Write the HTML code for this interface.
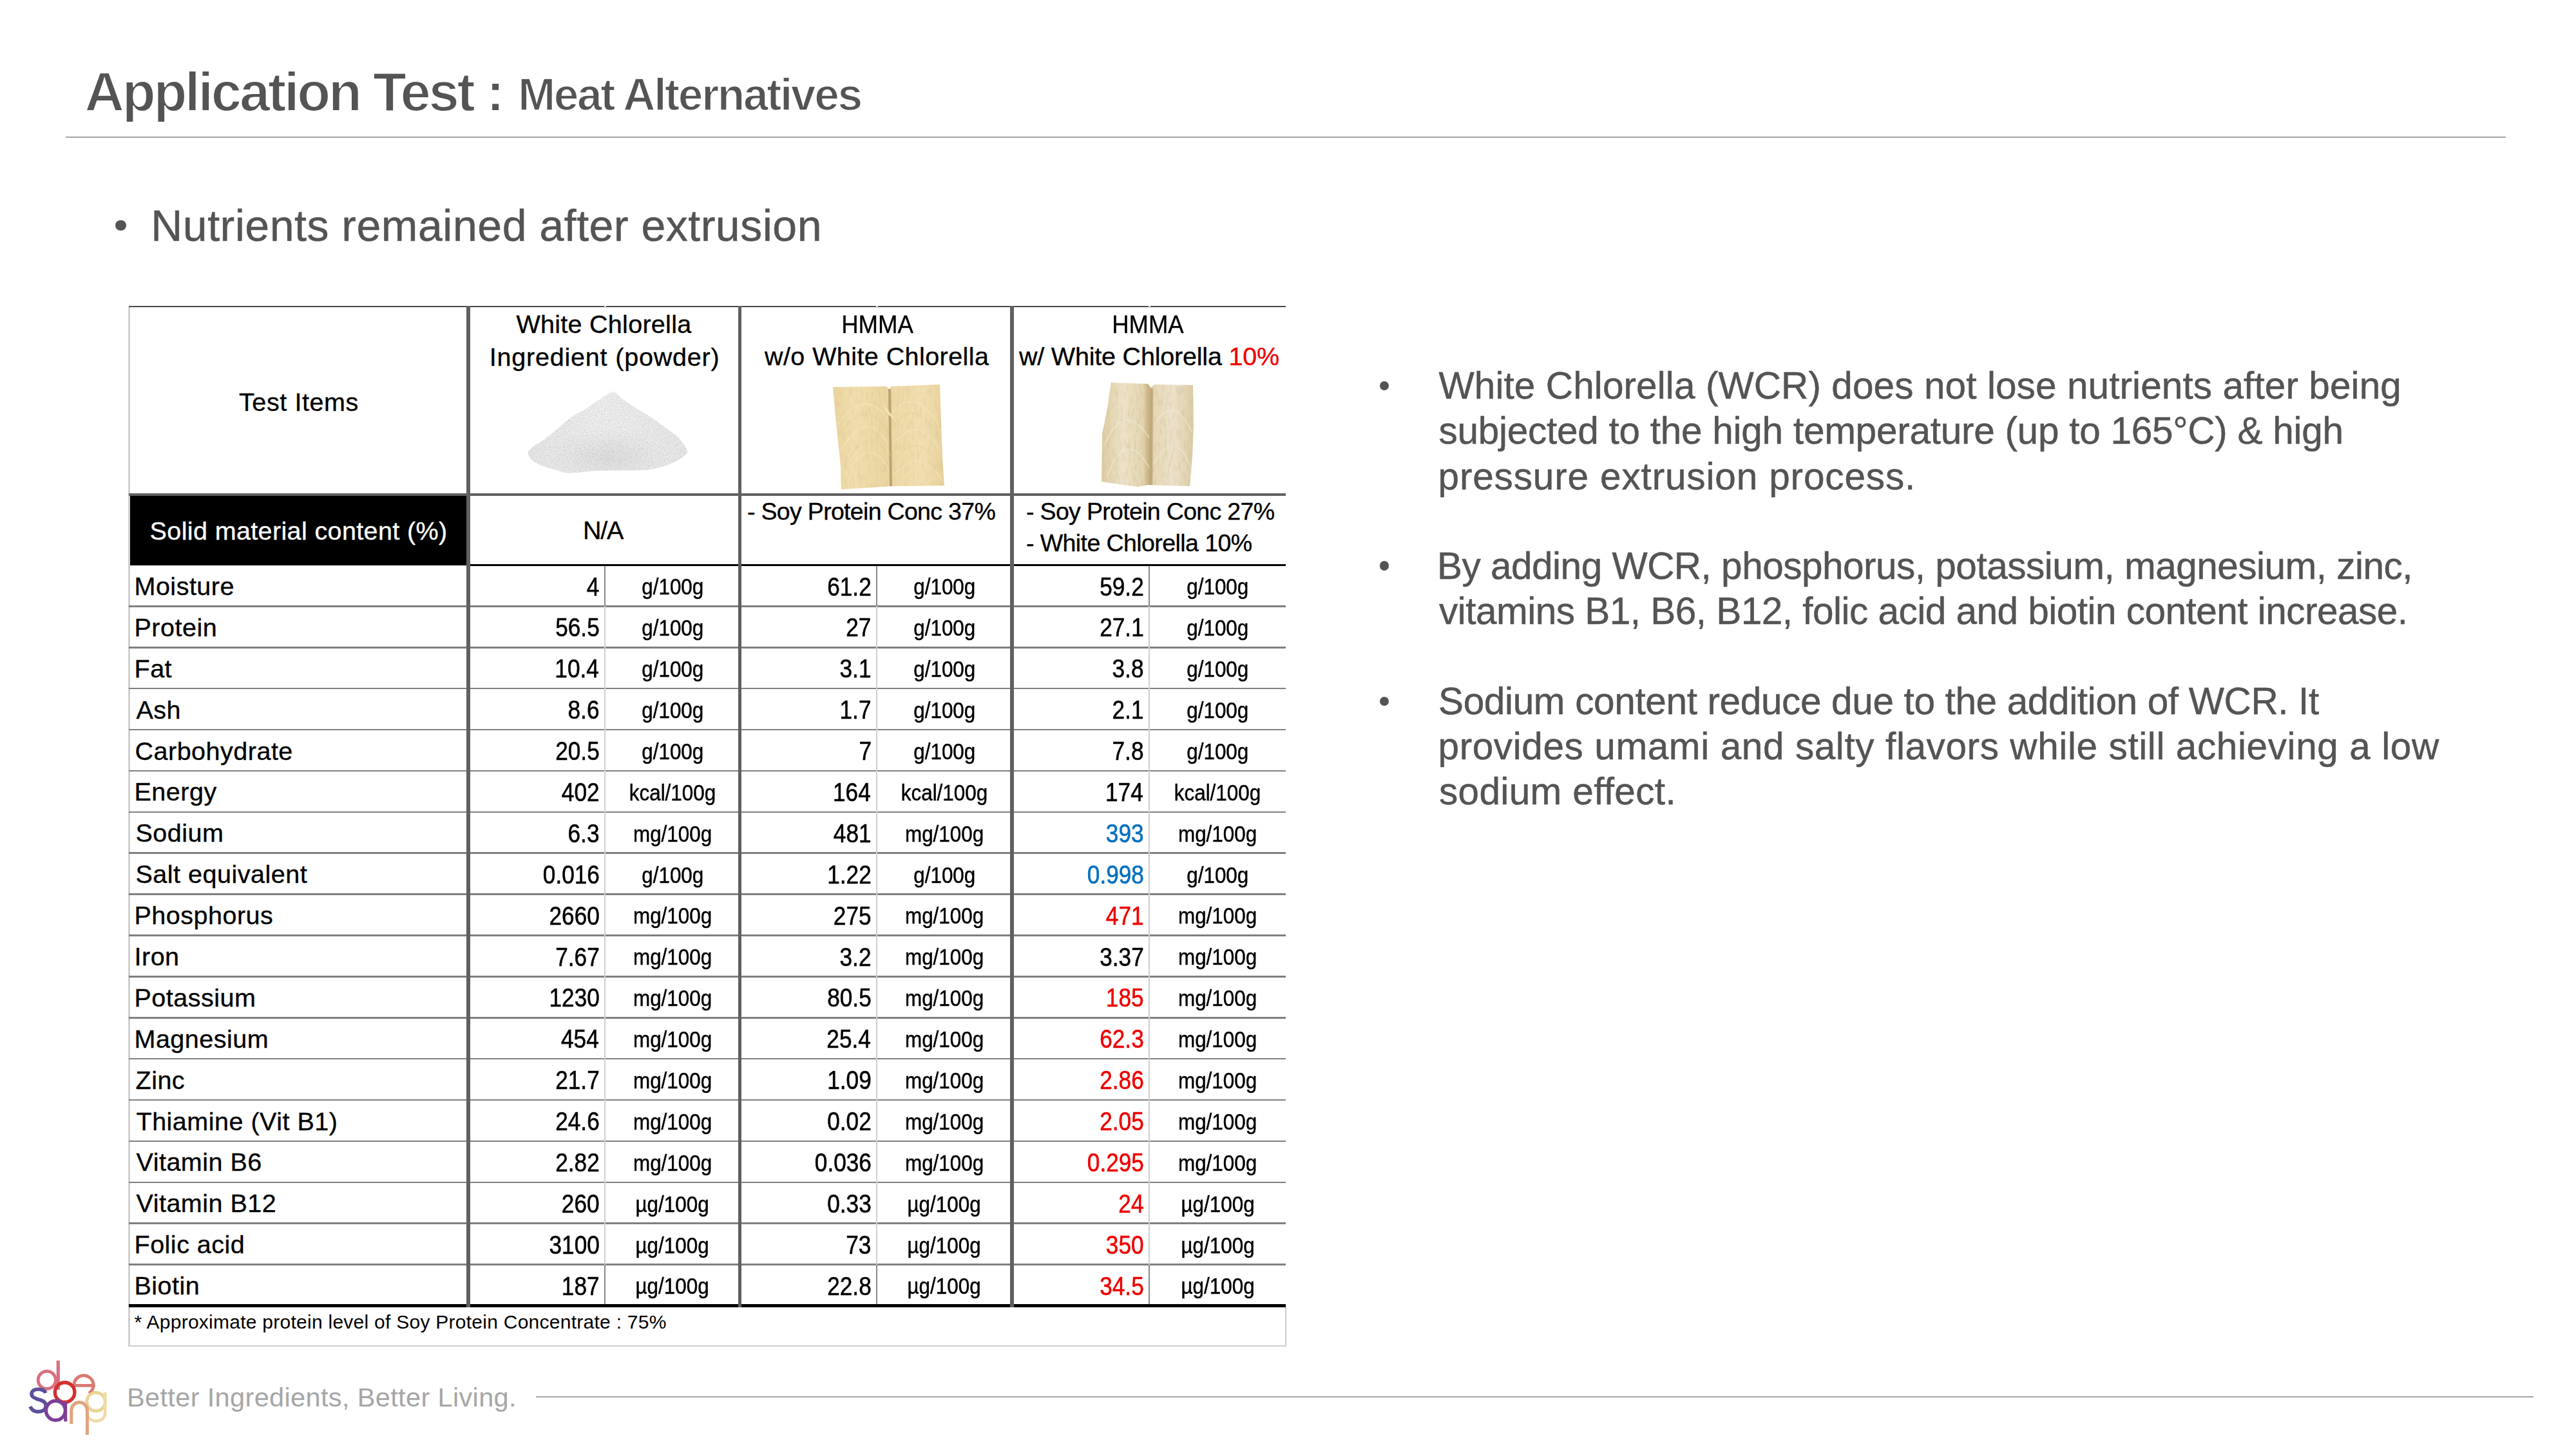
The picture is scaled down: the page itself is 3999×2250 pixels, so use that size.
<!DOCTYPE html>
<html><head><meta charset="utf-8"><style>
html,body{margin:0;padding:0;background:#fff;}
body{width:3999px;height:2250px;position:relative;overflow:hidden;font-family:"Liberation Sans",sans-serif;}
.t{position:absolute;white-space:nowrap;line-height:1;z-index:2;}
.r{position:absolute;}
.dot{position:absolute;border-radius:50%;}
</style></head><body>
<div class="t" style="left:131.60px;top:99.85px;font-size:85px;color:#545454;letter-spacing:-3.239px;font-weight:bold;-webkit-text-stroke:1.9px #fff;">Application Test :</div>
<div class="t" style="left:804.20px;top:112.87px;font-size:69.5px;color:#545454;letter-spacing:-2.379px;font-weight:bold;-webkit-text-stroke:1.6px #fff;">Meat Alternatives</div>
<div class="t" style="left:234.20px;top:316.44px;font-size:68px;color:#545454;letter-spacing:0.517px;-webkit-text-stroke:0.5px #545454;">Nutrients remained after extrusion</div>
<div class="t" style="left:2233.50px;top:570.08px;font-size:58.5px;color:#545454;letter-spacing:0.093px;-webkit-text-stroke:0.5px #545454;">White Chlorella (WCR) does not lose nutrients after being</div>
<div class="t" style="left:2233.50px;top:640.18px;font-size:58.5px;color:#545454;letter-spacing:-0.262px;-webkit-text-stroke:0.5px #545454;">subjected to the high temperature (up to 165°C) &amp; high</div>
<div class="t" style="left:2232.50px;top:710.98px;font-size:58.5px;color:#545454;letter-spacing:0.853px;-webkit-text-stroke:0.5px #545454;">pressure extrusion process.</div>
<div class="t" style="left:2231.00px;top:849.78px;font-size:58.5px;color:#545454;letter-spacing:-0.503px;-webkit-text-stroke:0.5px #545454;">By adding WCR, phosphorus, potassium, magnesium, zinc,</div>
<div class="t" style="left:2234.00px;top:920.08px;font-size:58.5px;color:#545454;letter-spacing:-0.513px;-webkit-text-stroke:0.5px #545454;">vitamins B1, B6, B12, folic acid and biotin content increase.</div>
<div class="t" style="left:2233.00px;top:1059.98px;font-size:58.5px;color:#545454;letter-spacing:-0.354px;-webkit-text-stroke:0.5px #545454;">Sodium content reduce due to the addition of WCR. It</div>
<div class="t" style="left:2232.50px;top:1130.08px;font-size:58.5px;color:#545454;letter-spacing:0.599px;-webkit-text-stroke:0.5px #545454;">provides umami and salty flavors while still achieving a low</div>
<div class="t" style="left:2234.00px;top:1200.18px;font-size:58.5px;color:#545454;letter-spacing:0.349px;-webkit-text-stroke:0.5px #545454;">sodium effect.</div>
<div class="t" style="left:371.00px;top:605.06px;font-size:39.5px;letter-spacing:0.596px;-webkit-text-stroke:0.35px currentColor;">Test Items</div>
<div class="t" style="left:801.40px;top:483.96px;font-size:39.5px;letter-spacing:0.282px;-webkit-text-stroke:0.35px currentColor;">White Chlorella</div>
<div class="t" style="left:759.70px;top:534.56px;font-size:39.5px;letter-spacing:0.802px;-webkit-text-stroke:0.35px currentColor;">Ingredient (powder)</div>
<div class="t" style="left:1305.50px;top:483.96px;font-size:39.5px;-webkit-text-stroke:0.35px currentColor;transform:scaleX(0.9254);transform-origin:3.00px 0;">HMMA</div>
<div class="t" style="left:1187.00px;top:533.76px;font-size:39.5px;letter-spacing:0.428px;-webkit-text-stroke:0.35px currentColor;">w/o White Chlorella</div>
<div class="t" style="left:1726.10px;top:483.96px;font-size:39.5px;-webkit-text-stroke:0.35px currentColor;transform:scaleX(0.9237);transform-origin:3.00px 0;">HMMA</div>
<div class="t" style="left:1582.00px;top:533.76px;font-size:39.5px;letter-spacing:-0.200px;-webkit-text-stroke:0.35px currentColor;">w/ White Chlorella <span style="color:#ee0000">10%</span></div>
<div class="t" style="left:232.60px;top:805.16px;font-size:39.5px;color:#fff;letter-spacing:0.372px;-webkit-text-stroke:0.35px currentColor;">Solid material content (%)</div>
<div class="t" style="left:905.00px;top:803.96px;font-size:39.5px;letter-spacing:-1.250px;-webkit-text-stroke:0.35px currentColor;">N/A</div>
<div class="t" style="left:1160.00px;top:776.26px;font-size:37.5px;letter-spacing:-0.688px;-webkit-text-stroke:0.35px currentColor;">- Soy Protein Conc 37%</div>
<div class="t" style="left:1593.00px;top:776.26px;font-size:37.5px;letter-spacing:-0.674px;-webkit-text-stroke:0.35px currentColor;">- Soy Protein Conc 27%</div>
<div class="t" style="left:1593.00px;top:824.76px;font-size:37.5px;letter-spacing:-0.580px;-webkit-text-stroke:0.35px currentColor;">- White Chlorella 10%</div>
<div class="t" style="left:208.60px;top:2037.61px;font-size:30px;letter-spacing:0.260px;">* Approximate protein level of Soy Protein Concentrate : 75%</div>
<div class="t" style="left:197.00px;top:2149.27px;font-size:41.5px;color:#a6a6a6;letter-spacing:0.354px;">Better Ingredients, Better Living.</div>
<div class="r" style="left:102.00px;top:211.70px;width:3788.00px;height:2.20px;background:#a4a4a4;"></div>
<div class="dot" style="left:178.90px;top:341.60px;width:16.8px;height:16.8px;background:#545454"></div>
<div class="dot" style="left:2141.70px;top:591.70px;width:14.6px;height:14.6px;background:#545454"></div>
<div class="dot" style="left:2141.70px;top:871.40px;width:14.6px;height:14.6px;background:#545454"></div>
<div class="dot" style="left:2141.70px;top:1081.60px;width:14.6px;height:14.6px;background:#545454"></div>
<div class="r" style="left:201.00px;top:770.00px;width:523.00px;height:108.00px;background:#000;"></div>
<div class="r" style="left:199.00px;top:477.00px;width:3.00px;height:1613.00px;background:#d0d0d0;"></div>
<div class="r" style="left:1994.50px;top:2030.00px;width:2.00px;height:61.00px;background:#d0d0d0;"></div>
<div class="r" style="left:199.00px;top:2089.00px;width:1797.50px;height:2.00px;background:#d0d0d0;"></div>
<div class="r" style="left:200.00px;top:940.14px;width:1796.00px;height:2.50px;background:#808080;"></div>
<div class="r" style="left:200.00px;top:1004.03px;width:1796.00px;height:2.50px;background:#808080;"></div>
<div class="r" style="left:200.00px;top:1067.92px;width:1796.00px;height:2.50px;background:#808080;"></div>
<div class="r" style="left:200.00px;top:1131.81px;width:1796.00px;height:2.50px;background:#808080;"></div>
<div class="r" style="left:200.00px;top:1195.69px;width:1796.00px;height:2.50px;background:#808080;"></div>
<div class="r" style="left:200.00px;top:1259.58px;width:1796.00px;height:2.50px;background:#808080;"></div>
<div class="r" style="left:200.00px;top:1323.47px;width:1796.00px;height:2.50px;background:#808080;"></div>
<div class="r" style="left:200.00px;top:1387.36px;width:1796.00px;height:2.50px;background:#808080;"></div>
<div class="r" style="left:200.00px;top:1451.25px;width:1796.00px;height:2.50px;background:#808080;"></div>
<div class="r" style="left:200.00px;top:1515.14px;width:1796.00px;height:2.50px;background:#808080;"></div>
<div class="r" style="left:200.00px;top:1579.03px;width:1796.00px;height:2.50px;background:#808080;"></div>
<div class="r" style="left:200.00px;top:1642.92px;width:1796.00px;height:2.50px;background:#808080;"></div>
<div class="r" style="left:200.00px;top:1706.81px;width:1796.00px;height:2.50px;background:#808080;"></div>
<div class="r" style="left:200.00px;top:1770.69px;width:1796.00px;height:2.50px;background:#808080;"></div>
<div class="r" style="left:200.00px;top:1834.58px;width:1796.00px;height:2.50px;background:#808080;"></div>
<div class="r" style="left:200.00px;top:1898.47px;width:1796.00px;height:2.50px;background:#808080;"></div>
<div class="r" style="left:200.00px;top:1962.36px;width:1796.00px;height:2.50px;background:#808080;"></div>
<div class="r" style="left:938.00px;top:877.50px;width:2.00px;height:1150.00px;background:#d0d0d0;"></div>
<div class="r" style="left:938.00px;top:877.50px;width:2.00px;height:63.89px;background:#8a8a8a;"></div>
<div class="r" style="left:938.00px;top:1963.61px;width:2.00px;height:63.89px;background:#8a8a8a;"></div>
<div class="r" style="left:1360.00px;top:877.50px;width:2.00px;height:1150.00px;background:#d0d0d0;"></div>
<div class="r" style="left:1360.00px;top:877.50px;width:2.00px;height:63.89px;background:#8a8a8a;"></div>
<div class="r" style="left:1360.00px;top:1963.61px;width:2.00px;height:63.89px;background:#8a8a8a;"></div>
<div class="r" style="left:1783.30px;top:877.50px;width:2.00px;height:1150.00px;background:#d0d0d0;"></div>
<div class="r" style="left:1783.30px;top:877.50px;width:2.00px;height:63.89px;background:#8a8a8a;"></div>
<div class="r" style="left:1783.30px;top:1963.61px;width:2.00px;height:63.89px;background:#8a8a8a;"></div>
<div class="r" style="left:727.00px;top:876.10px;width:1269.00px;height:2.80px;background:#000;"></div>
<div class="r" style="left:200.00px;top:2025.00px;width:1796.00px;height:5.00px;background:#000;"></div>
<div class="r" style="left:200.00px;top:475.00px;width:1796.00px;height:2.20px;background:#4a4a4a;"></div>
<div class="r" style="left:200.00px;top:766.00px;width:1796.00px;height:4.00px;background:#606060;"></div>
<div class="r" style="left:937.50px;top:474.50px;width:3.00px;height:3.00px;background:#d8d8d8;"></div>
<div class="r" style="left:1359.50px;top:474.50px;width:3.00px;height:3.00px;background:#d8d8d8;"></div>
<div class="r" style="left:1782.80px;top:474.50px;width:3.00px;height:3.00px;background:#d8d8d8;"></div>
<div class="r" style="left:724.20px;top:475.00px;width:5.60px;height:1555.00px;background:#606060;"></div>
<div class="r" style="left:1145.70px;top:475.00px;width:5.60px;height:1555.00px;background:#606060;"></div>
<div class="r" style="left:1568.20px;top:475.00px;width:5.60px;height:1555.00px;background:#606060;"></div>
<div class="t" style="left:208.50px;top:890.96px;font-size:39.5px;letter-spacing:0.500px;-webkit-text-stroke:0.35px #000;">Moisture</div>
<div class="t" style="left:907.50px;top:890.54px;font-size:40px;transform:scaleX(0.88);transform-origin:22.00px 0;-webkit-text-stroke:0.6px #000;">4</div>
<div class="t" style="left:1274.89px;top:890.54px;font-size:40px;transform:scaleX(0.88);transform-origin:76.61px 0;-webkit-text-stroke:0.6px #000;">61.2</div>
<div class="t" style="left:1698.19px;top:890.54px;font-size:40px;transform:scaleX(0.88);transform-origin:76.61px 0;-webkit-text-stroke:0.6px #000;">59.2</div>
<div class="t" style="left:989.83px;top:894.35px;font-size:35.5px;transform:scaleX(0.885);transform-origin:53.92px 0;-webkit-text-stroke:0.5px #000;">g/100g</div>
<div class="t" style="left:1412.08px;top:894.35px;font-size:35.5px;transform:scaleX(0.885);transform-origin:53.92px 0;-webkit-text-stroke:0.5px #000;">g/100g</div>
<div class="t" style="left:1836.23px;top:894.35px;font-size:35.5px;transform:scaleX(0.885);transform-origin:53.92px 0;-webkit-text-stroke:0.5px #000;">g/100g</div>
<div class="t" style="left:208.50px;top:954.85px;font-size:39.5px;letter-spacing:0.500px;-webkit-text-stroke:0.35px #000;">Protein</div>
<div class="t" style="left:852.89px;top:954.43px;font-size:40px;transform:scaleX(0.88);transform-origin:76.61px 0;-webkit-text-stroke:0.6px #000;">56.5</div>
<div class="t" style="left:1308.25px;top:954.43px;font-size:40px;transform:scaleX(0.88);transform-origin:43.25px 0;-webkit-text-stroke:0.6px #000;">27</div>
<div class="t" style="left:1698.19px;top:954.43px;font-size:40px;transform:scaleX(0.88);transform-origin:76.61px 0;-webkit-text-stroke:0.6px #000;">27.1</div>
<div class="t" style="left:989.83px;top:958.24px;font-size:35.5px;transform:scaleX(0.885);transform-origin:53.92px 0;-webkit-text-stroke:0.5px #000;">g/100g</div>
<div class="t" style="left:1412.08px;top:958.24px;font-size:35.5px;transform:scaleX(0.885);transform-origin:53.92px 0;-webkit-text-stroke:0.5px #000;">g/100g</div>
<div class="t" style="left:1836.23px;top:958.24px;font-size:35.5px;transform:scaleX(0.885);transform-origin:53.92px 0;-webkit-text-stroke:0.5px #000;">g/100g</div>
<div class="t" style="left:208.50px;top:1018.74px;font-size:39.5px;letter-spacing:0.500px;-webkit-text-stroke:0.35px #000;">Fat</div>
<div class="t" style="left:851.89px;top:1018.32px;font-size:40px;transform:scaleX(0.88);transform-origin:77.61px 0;-webkit-text-stroke:0.6px #000;">10.4</div>
<div class="t" style="left:1297.14px;top:1018.32px;font-size:40px;transform:scaleX(0.88);transform-origin:54.36px 0;-webkit-text-stroke:0.6px #000;">3.1</div>
<div class="t" style="left:1720.44px;top:1018.32px;font-size:40px;transform:scaleX(0.88);transform-origin:54.36px 0;-webkit-text-stroke:0.6px #000;">3.8</div>
<div class="t" style="left:989.83px;top:1022.13px;font-size:35.5px;transform:scaleX(0.885);transform-origin:53.92px 0;-webkit-text-stroke:0.5px #000;">g/100g</div>
<div class="t" style="left:1412.08px;top:1022.13px;font-size:35.5px;transform:scaleX(0.885);transform-origin:53.92px 0;-webkit-text-stroke:0.5px #000;">g/100g</div>
<div class="t" style="left:1836.23px;top:1022.13px;font-size:35.5px;transform:scaleX(0.885);transform-origin:53.92px 0;-webkit-text-stroke:0.5px #000;">g/100g</div>
<div class="t" style="left:211.50px;top:1082.63px;font-size:39.5px;letter-spacing:0.500px;-webkit-text-stroke:0.35px #000;">Ash</div>
<div class="t" style="left:875.14px;top:1082.21px;font-size:40px;transform:scaleX(0.88);transform-origin:54.36px 0;-webkit-text-stroke:0.6px #000;">8.6</div>
<div class="t" style="left:1297.14px;top:1082.21px;font-size:40px;transform:scaleX(0.88);transform-origin:54.36px 0;-webkit-text-stroke:0.6px #000;">1.7</div>
<div class="t" style="left:1720.44px;top:1082.21px;font-size:40px;transform:scaleX(0.88);transform-origin:54.36px 0;-webkit-text-stroke:0.6px #000;">2.1</div>
<div class="t" style="left:989.83px;top:1086.02px;font-size:35.5px;transform:scaleX(0.885);transform-origin:53.92px 0;-webkit-text-stroke:0.5px #000;">g/100g</div>
<div class="t" style="left:1412.08px;top:1086.02px;font-size:35.5px;transform:scaleX(0.885);transform-origin:53.92px 0;-webkit-text-stroke:0.5px #000;">g/100g</div>
<div class="t" style="left:1836.23px;top:1086.02px;font-size:35.5px;transform:scaleX(0.885);transform-origin:53.92px 0;-webkit-text-stroke:0.5px #000;">g/100g</div>
<div class="t" style="left:209.50px;top:1146.52px;font-size:39.5px;letter-spacing:0.500px;-webkit-text-stroke:0.35px #000;">Carbohydrate</div>
<div class="t" style="left:852.89px;top:1146.10px;font-size:40px;transform:scaleX(0.88);transform-origin:76.61px 0;-webkit-text-stroke:0.6px #000;">20.5</div>
<div class="t" style="left:1330.50px;top:1146.10px;font-size:40px;transform:scaleX(0.88);transform-origin:21.00px 0;-webkit-text-stroke:0.6px #000;">7</div>
<div class="t" style="left:1720.44px;top:1146.10px;font-size:40px;transform:scaleX(0.88);transform-origin:54.36px 0;-webkit-text-stroke:0.6px #000;">7.8</div>
<div class="t" style="left:989.83px;top:1149.90px;font-size:35.5px;transform:scaleX(0.885);transform-origin:53.92px 0;-webkit-text-stroke:0.5px #000;">g/100g</div>
<div class="t" style="left:1412.08px;top:1149.90px;font-size:35.5px;transform:scaleX(0.885);transform-origin:53.92px 0;-webkit-text-stroke:0.5px #000;">g/100g</div>
<div class="t" style="left:1836.23px;top:1149.90px;font-size:35.5px;transform:scaleX(0.885);transform-origin:53.92px 0;-webkit-text-stroke:0.5px #000;">g/100g</div>
<div class="t" style="left:208.50px;top:1210.41px;font-size:39.5px;letter-spacing:0.500px;-webkit-text-stroke:0.35px #000;">Energy</div>
<div class="t" style="left:864.01px;top:1209.98px;font-size:40px;transform:scaleX(0.88);transform-origin:65.49px 0;-webkit-text-stroke:0.6px #000;">402</div>
<div class="t" style="left:1285.01px;top:1209.98px;font-size:40px;transform:scaleX(0.88);transform-origin:66.49px 0;-webkit-text-stroke:0.6px #000;">164</div>
<div class="t" style="left:1708.31px;top:1209.98px;font-size:40px;transform:scaleX(0.88);transform-origin:66.49px 0;-webkit-text-stroke:0.6px #000;">174</div>
<div class="t" style="left:967.64px;top:1213.79px;font-size:35.5px;transform:scaleX(0.885);transform-origin:76.11px 0;-webkit-text-stroke:0.5px #000;">kcal/100g</div>
<div class="t" style="left:1389.89px;top:1213.79px;font-size:35.5px;transform:scaleX(0.885);transform-origin:76.11px 0;-webkit-text-stroke:0.5px #000;">kcal/100g</div>
<div class="t" style="left:1814.04px;top:1213.79px;font-size:35.5px;transform:scaleX(0.885);transform-origin:76.11px 0;-webkit-text-stroke:0.5px #000;">kcal/100g</div>
<div class="t" style="left:210.50px;top:1274.30px;font-size:39.5px;letter-spacing:0.500px;-webkit-text-stroke:0.35px #000;">Sodium</div>
<div class="t" style="left:875.14px;top:1273.87px;font-size:40px;transform:scaleX(0.88);transform-origin:54.36px 0;-webkit-text-stroke:0.6px #000;">6.3</div>
<div class="t" style="left:1286.01px;top:1273.87px;font-size:40px;transform:scaleX(0.88);transform-origin:65.49px 0;-webkit-text-stroke:0.6px #000;">481</div>
<div class="t" style="left:1709.31px;top:1273.87px;font-size:40px;color:#0070c0;transform:scaleX(0.88);transform-origin:65.49px 0;-webkit-text-stroke:0.6px #0070c0;">393</div>
<div class="t" style="left:974.55px;top:1277.68px;font-size:35.5px;transform:scaleX(0.885);transform-origin:69.20px 0;-webkit-text-stroke:0.5px #000;">mg/100g</div>
<div class="t" style="left:1396.80px;top:1277.68px;font-size:35.5px;transform:scaleX(0.885);transform-origin:69.20px 0;-webkit-text-stroke:0.5px #000;">mg/100g</div>
<div class="t" style="left:1820.95px;top:1277.68px;font-size:35.5px;transform:scaleX(0.885);transform-origin:69.20px 0;-webkit-text-stroke:0.5px #000;">mg/100g</div>
<div class="t" style="left:210.50px;top:1338.19px;font-size:39.5px;letter-spacing:0.500px;-webkit-text-stroke:0.35px #000;">Salt equivalent</div>
<div class="t" style="left:830.65px;top:1337.76px;font-size:40px;transform:scaleX(0.88);transform-origin:98.85px 0;-webkit-text-stroke:0.6px #000;">0.016</div>
<div class="t" style="left:1274.89px;top:1337.76px;font-size:40px;transform:scaleX(0.88);transform-origin:76.61px 0;-webkit-text-stroke:0.6px #000;">1.22</div>
<div class="t" style="left:1675.95px;top:1337.76px;font-size:40px;color:#0070c0;transform:scaleX(0.88);transform-origin:98.85px 0;-webkit-text-stroke:0.6px #0070c0;">0.998</div>
<div class="t" style="left:989.83px;top:1341.57px;font-size:35.5px;transform:scaleX(0.885);transform-origin:53.92px 0;-webkit-text-stroke:0.5px #000;">g/100g</div>
<div class="t" style="left:1412.08px;top:1341.57px;font-size:35.5px;transform:scaleX(0.885);transform-origin:53.92px 0;-webkit-text-stroke:0.5px #000;">g/100g</div>
<div class="t" style="left:1836.23px;top:1341.57px;font-size:35.5px;transform:scaleX(0.885);transform-origin:53.92px 0;-webkit-text-stroke:0.5px #000;">g/100g</div>
<div class="t" style="left:208.50px;top:1402.07px;font-size:39.5px;letter-spacing:0.500px;-webkit-text-stroke:0.35px #000;">Phosphorus</div>
<div class="t" style="left:841.76px;top:1401.65px;font-size:40px;transform:scaleX(0.88);transform-origin:87.74px 0;-webkit-text-stroke:0.6px #000;">2660</div>
<div class="t" style="left:1286.01px;top:1401.65px;font-size:40px;transform:scaleX(0.88);transform-origin:65.49px 0;-webkit-text-stroke:0.6px #000;">275</div>
<div class="t" style="left:1709.31px;top:1401.65px;font-size:40px;color:#ee0000;transform:scaleX(0.88);transform-origin:65.49px 0;-webkit-text-stroke:0.6px #ee0000;">471</div>
<div class="t" style="left:974.55px;top:1405.46px;font-size:35.5px;transform:scaleX(0.885);transform-origin:69.20px 0;-webkit-text-stroke:0.5px #000;">mg/100g</div>
<div class="t" style="left:1396.80px;top:1405.46px;font-size:35.5px;transform:scaleX(0.885);transform-origin:69.20px 0;-webkit-text-stroke:0.5px #000;">mg/100g</div>
<div class="t" style="left:1820.95px;top:1405.46px;font-size:35.5px;transform:scaleX(0.885);transform-origin:69.20px 0;-webkit-text-stroke:0.5px #000;">mg/100g</div>
<div class="t" style="left:208.50px;top:1465.96px;font-size:39.5px;letter-spacing:0.500px;-webkit-text-stroke:0.35px #000;">Iron</div>
<div class="t" style="left:852.89px;top:1465.54px;font-size:40px;transform:scaleX(0.88);transform-origin:76.61px 0;-webkit-text-stroke:0.6px #000;">7.67</div>
<div class="t" style="left:1297.14px;top:1465.54px;font-size:40px;transform:scaleX(0.88);transform-origin:54.36px 0;-webkit-text-stroke:0.6px #000;">3.2</div>
<div class="t" style="left:1698.19px;top:1465.54px;font-size:40px;transform:scaleX(0.88);transform-origin:76.61px 0;-webkit-text-stroke:0.6px #000;">3.37</div>
<div class="t" style="left:974.55px;top:1469.35px;font-size:35.5px;transform:scaleX(0.885);transform-origin:69.20px 0;-webkit-text-stroke:0.5px #000;">mg/100g</div>
<div class="t" style="left:1396.80px;top:1469.35px;font-size:35.5px;transform:scaleX(0.885);transform-origin:69.20px 0;-webkit-text-stroke:0.5px #000;">mg/100g</div>
<div class="t" style="left:1820.95px;top:1469.35px;font-size:35.5px;transform:scaleX(0.885);transform-origin:69.20px 0;-webkit-text-stroke:0.5px #000;">mg/100g</div>
<div class="t" style="left:208.50px;top:1529.85px;font-size:39.5px;letter-spacing:0.500px;-webkit-text-stroke:0.35px #000;">Potassium</div>
<div class="t" style="left:841.76px;top:1529.43px;font-size:40px;transform:scaleX(0.88);transform-origin:87.74px 0;-webkit-text-stroke:0.6px #000;">1230</div>
<div class="t" style="left:1274.89px;top:1529.43px;font-size:40px;transform:scaleX(0.88);transform-origin:76.61px 0;-webkit-text-stroke:0.6px #000;">80.5</div>
<div class="t" style="left:1709.31px;top:1529.43px;font-size:40px;color:#ee0000;transform:scaleX(0.88);transform-origin:65.49px 0;-webkit-text-stroke:0.6px #ee0000;">185</div>
<div class="t" style="left:974.55px;top:1533.24px;font-size:35.5px;transform:scaleX(0.885);transform-origin:69.20px 0;-webkit-text-stroke:0.5px #000;">mg/100g</div>
<div class="t" style="left:1396.80px;top:1533.24px;font-size:35.5px;transform:scaleX(0.885);transform-origin:69.20px 0;-webkit-text-stroke:0.5px #000;">mg/100g</div>
<div class="t" style="left:1820.95px;top:1533.24px;font-size:35.5px;transform:scaleX(0.885);transform-origin:69.20px 0;-webkit-text-stroke:0.5px #000;">mg/100g</div>
<div class="t" style="left:208.50px;top:1593.74px;font-size:39.5px;letter-spacing:0.500px;-webkit-text-stroke:0.35px #000;">Magnesium</div>
<div class="t" style="left:863.01px;top:1593.32px;font-size:40px;transform:scaleX(0.88);transform-origin:66.49px 0;-webkit-text-stroke:0.6px #000;">454</div>
<div class="t" style="left:1273.89px;top:1593.32px;font-size:40px;transform:scaleX(0.88);transform-origin:77.61px 0;-webkit-text-stroke:0.6px #000;">25.4</div>
<div class="t" style="left:1698.19px;top:1593.32px;font-size:40px;color:#ee0000;transform:scaleX(0.88);transform-origin:76.61px 0;-webkit-text-stroke:0.6px #ee0000;">62.3</div>
<div class="t" style="left:974.55px;top:1597.13px;font-size:35.5px;transform:scaleX(0.885);transform-origin:69.20px 0;-webkit-text-stroke:0.5px #000;">mg/100g</div>
<div class="t" style="left:1396.80px;top:1597.13px;font-size:35.5px;transform:scaleX(0.885);transform-origin:69.20px 0;-webkit-text-stroke:0.5px #000;">mg/100g</div>
<div class="t" style="left:1820.95px;top:1597.13px;font-size:35.5px;transform:scaleX(0.885);transform-origin:69.20px 0;-webkit-text-stroke:0.5px #000;">mg/100g</div>
<div class="t" style="left:210.50px;top:1657.63px;font-size:39.5px;letter-spacing:0.500px;-webkit-text-stroke:0.35px #000;">Zinc</div>
<div class="t" style="left:852.89px;top:1657.21px;font-size:40px;transform:scaleX(0.88);transform-origin:76.61px 0;-webkit-text-stroke:0.6px #000;">21.7</div>
<div class="t" style="left:1274.89px;top:1657.21px;font-size:40px;transform:scaleX(0.88);transform-origin:76.61px 0;-webkit-text-stroke:0.6px #000;">1.09</div>
<div class="t" style="left:1698.19px;top:1657.21px;font-size:40px;color:#ee0000;transform:scaleX(0.88);transform-origin:76.61px 0;-webkit-text-stroke:0.6px #ee0000;">2.86</div>
<div class="t" style="left:974.55px;top:1661.02px;font-size:35.5px;transform:scaleX(0.885);transform-origin:69.20px 0;-webkit-text-stroke:0.5px #000;">mg/100g</div>
<div class="t" style="left:1396.80px;top:1661.02px;font-size:35.5px;transform:scaleX(0.885);transform-origin:69.20px 0;-webkit-text-stroke:0.5px #000;">mg/100g</div>
<div class="t" style="left:1820.95px;top:1661.02px;font-size:35.5px;transform:scaleX(0.885);transform-origin:69.20px 0;-webkit-text-stroke:0.5px #000;">mg/100g</div>
<div class="t" style="left:211.50px;top:1721.52px;font-size:39.5px;letter-spacing:0.500px;-webkit-text-stroke:0.35px #000;">Thiamine (Vit B1)</div>
<div class="t" style="left:852.89px;top:1721.10px;font-size:40px;transform:scaleX(0.88);transform-origin:76.61px 0;-webkit-text-stroke:0.6px #000;">24.6</div>
<div class="t" style="left:1274.89px;top:1721.10px;font-size:40px;transform:scaleX(0.88);transform-origin:76.61px 0;-webkit-text-stroke:0.6px #000;">0.02</div>
<div class="t" style="left:1698.19px;top:1721.10px;font-size:40px;color:#ee0000;transform:scaleX(0.88);transform-origin:76.61px 0;-webkit-text-stroke:0.6px #ee0000;">2.05</div>
<div class="t" style="left:974.55px;top:1724.90px;font-size:35.5px;transform:scaleX(0.885);transform-origin:69.20px 0;-webkit-text-stroke:0.5px #000;">mg/100g</div>
<div class="t" style="left:1396.80px;top:1724.90px;font-size:35.5px;transform:scaleX(0.885);transform-origin:69.20px 0;-webkit-text-stroke:0.5px #000;">mg/100g</div>
<div class="t" style="left:1820.95px;top:1724.90px;font-size:35.5px;transform:scaleX(0.885);transform-origin:69.20px 0;-webkit-text-stroke:0.5px #000;">mg/100g</div>
<div class="t" style="left:211.50px;top:1785.41px;font-size:39.5px;letter-spacing:0.500px;-webkit-text-stroke:0.35px #000;">Vitamin B6</div>
<div class="t" style="left:852.89px;top:1784.98px;font-size:40px;transform:scaleX(0.88);transform-origin:76.61px 0;-webkit-text-stroke:0.6px #000;">2.82</div>
<div class="t" style="left:1252.65px;top:1784.98px;font-size:40px;transform:scaleX(0.88);transform-origin:98.85px 0;-webkit-text-stroke:0.6px #000;">0.036</div>
<div class="t" style="left:1675.95px;top:1784.98px;font-size:40px;color:#ee0000;transform:scaleX(0.88);transform-origin:98.85px 0;-webkit-text-stroke:0.6px #ee0000;">0.295</div>
<div class="t" style="left:974.55px;top:1788.79px;font-size:35.5px;transform:scaleX(0.885);transform-origin:69.20px 0;-webkit-text-stroke:0.5px #000;">mg/100g</div>
<div class="t" style="left:1396.80px;top:1788.79px;font-size:35.5px;transform:scaleX(0.885);transform-origin:69.20px 0;-webkit-text-stroke:0.5px #000;">mg/100g</div>
<div class="t" style="left:1820.95px;top:1788.79px;font-size:35.5px;transform:scaleX(0.885);transform-origin:69.20px 0;-webkit-text-stroke:0.5px #000;">mg/100g</div>
<div class="t" style="left:211.50px;top:1849.30px;font-size:39.5px;letter-spacing:0.500px;-webkit-text-stroke:0.35px #000;">Vitamin B12</div>
<div class="t" style="left:864.01px;top:1848.87px;font-size:40px;transform:scaleX(0.88);transform-origin:65.49px 0;-webkit-text-stroke:0.6px #000;">260</div>
<div class="t" style="left:1274.89px;top:1848.87px;font-size:40px;transform:scaleX(0.88);transform-origin:76.61px 0;-webkit-text-stroke:0.6px #000;">0.33</div>
<div class="t" style="left:1730.55px;top:1848.87px;font-size:40px;color:#ee0000;transform:scaleX(0.88);transform-origin:44.25px 0;-webkit-text-stroke:0.6px #ee0000;">24</div>
<div class="t" style="left:979.10px;top:1852.68px;font-size:35.5px;transform:scaleX(0.885);transform-origin:64.65px 0;-webkit-text-stroke:0.5px #000;">µg/100g</div>
<div class="t" style="left:1401.35px;top:1852.68px;font-size:35.5px;transform:scaleX(0.885);transform-origin:64.65px 0;-webkit-text-stroke:0.5px #000;">µg/100g</div>
<div class="t" style="left:1825.50px;top:1852.68px;font-size:35.5px;transform:scaleX(0.885);transform-origin:64.65px 0;-webkit-text-stroke:0.5px #000;">µg/100g</div>
<div class="t" style="left:208.50px;top:1913.19px;font-size:39.5px;letter-spacing:0.500px;-webkit-text-stroke:0.35px #000;">Folic acid</div>
<div class="t" style="left:841.76px;top:1912.76px;font-size:40px;transform:scaleX(0.88);transform-origin:87.74px 0;-webkit-text-stroke:0.6px #000;">3100</div>
<div class="t" style="left:1308.25px;top:1912.76px;font-size:40px;transform:scaleX(0.88);transform-origin:43.25px 0;-webkit-text-stroke:0.6px #000;">73</div>
<div class="t" style="left:1709.31px;top:1912.76px;font-size:40px;color:#ee0000;transform:scaleX(0.88);transform-origin:65.49px 0;-webkit-text-stroke:0.6px #ee0000;">350</div>
<div class="t" style="left:979.10px;top:1916.57px;font-size:35.5px;transform:scaleX(0.885);transform-origin:64.65px 0;-webkit-text-stroke:0.5px #000;">µg/100g</div>
<div class="t" style="left:1401.35px;top:1916.57px;font-size:35.5px;transform:scaleX(0.885);transform-origin:64.65px 0;-webkit-text-stroke:0.5px #000;">µg/100g</div>
<div class="t" style="left:1825.50px;top:1916.57px;font-size:35.5px;transform:scaleX(0.885);transform-origin:64.65px 0;-webkit-text-stroke:0.5px #000;">µg/100g</div>
<div class="t" style="left:208.50px;top:1977.07px;font-size:39.5px;letter-spacing:0.500px;-webkit-text-stroke:0.35px #000;">Biotin</div>
<div class="t" style="left:864.01px;top:1976.65px;font-size:40px;transform:scaleX(0.88);transform-origin:65.49px 0;-webkit-text-stroke:0.6px #000;">187</div>
<div class="t" style="left:1274.89px;top:1976.65px;font-size:40px;transform:scaleX(0.88);transform-origin:76.61px 0;-webkit-text-stroke:0.6px #000;">22.8</div>
<div class="t" style="left:1698.19px;top:1976.65px;font-size:40px;color:#ee0000;transform:scaleX(0.88);transform-origin:76.61px 0;-webkit-text-stroke:0.6px #ee0000;">34.5</div>
<div class="t" style="left:979.10px;top:1980.46px;font-size:35.5px;transform:scaleX(0.885);transform-origin:64.65px 0;-webkit-text-stroke:0.5px #000;">µg/100g</div>
<div class="t" style="left:1401.35px;top:1980.46px;font-size:35.5px;transform:scaleX(0.885);transform-origin:64.65px 0;-webkit-text-stroke:0.5px #000;">µg/100g</div>
<div class="t" style="left:1825.50px;top:1980.46px;font-size:35.5px;transform:scaleX(0.885);transform-origin:64.65px 0;-webkit-text-stroke:0.5px #000;">µg/100g</div>
<svg style="position:absolute;left:0;top:0" width="3999" height="2250" viewBox="0 0 3999 2250">
<defs>
<filter id="nz" x="0" y="0" width="100%" height="100%" filterUnits="userSpaceOnUse">
<feTurbulence type="fractalNoise" baseFrequency="0.45" numOctaves="3" seed="7" result="t"/>
<feColorMatrix in="t" type="matrix" values="0 0 0 0 0  0 0 0 0 0  0 0 0 0 0  2.2 0 0 0 -1.0"/>
</filter>
<filter id="nzw" x="0" y="0" width="100%" height="100%" filterUnits="userSpaceOnUse">
<feTurbulence type="fractalNoise" baseFrequency="0.5" numOctaves="3" seed="11" result="t"/>
<feColorMatrix in="t" type="matrix" values="0 0 0 0 1  0 0 0 0 1  0 0 0 0 1  2.2 0 0 0 -1.0"/>
</filter>
<filter id="fib" x="0" y="0" width="100%" height="100%" filterUnits="userSpaceOnUse">
<feTurbulence type="fractalNoise" baseFrequency="0.25 0.06" numOctaves="3" seed="4" result="t"/>
<feColorMatrix in="t" type="matrix" values="0 0 0 0 0.55  0 0 0 0 0.45  0 0 0 0 0.25  2.5 0 0 0 -1.2"/>
</filter>
<clipPath id="cpPow"><path id="pPow" d="M951,608 C958,609 961,614 964,618 L986,633 C1000,640 1040,668 1054,680 C1062,690 1068,698 1067,703 C1060,712 1040,725 1003,730 L924,731 C905,733 890,735 876,734 L840,723 C830,718 822,712 820,706 C818,700 825,694 840,686 C860,672 880,652 892,644 L906,637 C920,628 938,614 951,608 Z"/></clipPath>
<clipPath id="cpB1"><path d="M1293,601 L1376,600 L1380,604 L1384,600 L1459,597 L1463,711 L1466,754 L1383,755 L1306,760 L1305,724 L1297,646 Z"/></clipPath>
<clipPath id="cpB2"><path d="M1725,594 L1782,596 L1787,602 L1792,597 L1852,598 L1853,659 L1851,711 L1847,755 L1782,753 L1766,756 L1710,748 L1711,672 L1717,646 Z"/></clipPath>
<linearGradient id="pw" x1="0" y1="0" x2="1" y2="0">
<stop offset="0" stop-color="#e2e2e2"/><stop offset="0.45" stop-color="#ececec"/><stop offset="0.7" stop-color="#e9e9e9"/><stop offset="1" stop-color="#e3e3e3"/>
</linearGradient>
<radialGradient id="pw2" cx="0.5" cy="0.8" r="0.35">
<stop offset="0" stop-color="#cdcdcd" stop-opacity="0.6"/><stop offset="1" stop-color="#cdcdcd" stop-opacity="0"/>
</radialGradient>
<linearGradient id="hb1" x1="0" y1="0" x2="1" y2="0">
<stop offset="0" stop-color="#e8d29c"/><stop offset="0.2" stop-color="#f2dfae"/><stop offset="0.47" stop-color="#ead5a0"/><stop offset="0.55" stop-color="#eed9a6"/><stop offset="0.8" stop-color="#f2dfb0"/><stop offset="1" stop-color="#e6cf98"/>
</linearGradient>
<linearGradient id="hb2" x1="0" y1="0" x2="1" y2="0">
<stop offset="0" stop-color="#dcc99d"/><stop offset="0.25" stop-color="#ede3c8"/><stop offset="0.45" stop-color="#e3d4af"/><stop offset="0.5" stop-color="#c9b284"/><stop offset="0.56" stop-color="#e6d8b6"/><stop offset="0.75" stop-color="#ece2ca"/><stop offset="1" stop-color="#d9c69e"/>
</linearGradient>
</defs>
<!-- powder -->
<g clip-path="url(#cpPow)">
<rect x="815" y="605" width="255" height="132" fill="url(#pw)"/>
<rect x="815" y="605" width="255" height="132" fill="url(#pw2)"/>
<rect x="815" y="605" width="255" height="132" filter="url(#nz)" opacity="0.12"/>
<rect x="815" y="605" width="255" height="132" filter="url(#nzw)" opacity="0.5"/>
</g>
<!-- HMMA block 1 -->
<g clip-path="url(#cpB1)">
<rect x="1290" y="595" width="180" height="170" fill="url(#hb1)"/>
<g fill="none" stroke="#f8eac4" stroke-width="1.4" opacity="0.6">
<path d="M1300,660 Q1340,600 1378,650"/><path d="M1305,700 Q1345,630 1378,690"/><path d="M1310,740 Q1350,670 1380,730"/>
<path d="M1386,640 Q1420,600 1458,660"/><path d="M1386,690 Q1425,640 1460,700"/><path d="M1386,740 Q1425,690 1462,745"/>
</g>
<g fill="none" stroke="#dcc58f" stroke-width="1" opacity="0.45">
<path d="M1302,675 Q1342,615 1378,668"/><path d="M1388,660 Q1422,615 1458,680"/><path d="M1310,725 Q1350,650 1380,712"/><path d="M1388,715 Q1425,665 1462,725"/>
</g>
<rect x="1290" y="595" width="180" height="170" filter="url(#fib)" opacity="0.25"/>
<path d="M1379,604 L1383,604 L1385,756 L1381,756 Z" fill="#a88f5c" opacity="0.7"/>
<path d="M1370,625 L1392,655 L1375,640 Z M1372,690 L1392,720 L1378,700 Z" fill="#f3e3b5"/>
</g>
<!-- HMMA block 2 -->
<g clip-path="url(#cpB2)">
<rect x="1705" y="590" width="155" height="170" fill="url(#hb2)"/>
<rect x="1705" y="590" width="155" height="170" filter="url(#fib)" opacity="0.35"/>
<g fill="none" stroke="#f1e8d2" stroke-width="1.4" opacity="0.8">
<path d="M1715,690 Q1745,620 1784,680"/><path d="M1718,740 Q1750,660 1786,730"/><path d="M1792,660 Q1820,610 1850,670"/><path d="M1792,720 Q1825,660 1850,730"/>
</g>
<path d="M1785,603 L1790,603 L1789,755 L1784,755 Z" fill="#b09868" opacity="0.6"/>
</g>
</svg>

<div class="r" style="left:831.50px;top:2168.40px;width:3101.50px;height:2.00px;background:#a6a6a6;"></div>
<svg style="position:absolute;left:0;top:2080px" width="220" height="170" viewBox="0 2080 220 170">
<g fill="none" stroke-linecap="butt">
<circle cx="72.8" cy="2142.9" r="13.6" stroke="#d8707f" stroke-width="4.9"/>
<line x1="90.3" y1="2112.6" x2="90.3" y2="2158" stroke="#d8707f" stroke-width="5.2"/>
<path d="M147.7,2151.4 L115,2151.4 A15,15 0 1 1 138,2163.5" stroke="#d97a70" stroke-width="4.9"/>
<path d="M149,2162.4 A14.3,14.3 0 1 0 149,2191 A14.3,14.3 0 1 0 149,2162.4 Z" stroke="#ebd396" stroke-width="5"/>
<path d="M163.2,2162 L163.2,2194 A14,12 0 0 1 135.5,2197" stroke="#efdba6" stroke-width="4.6"/>
<path d="M110.8,2211 L110.8,2189.8 A12.3,12.3 0 0 1 135.4,2189.8 L135.4,2228" stroke="#e2a37e" stroke-width="5"/>
<path d="M71,2163 C69,2158 62,2156.5 56,2157.5 C50,2158.5 48,2163 49.5,2167 C51,2171 58,2172.5 63,2174 C69,2176 72,2179 71,2185 C70,2191 62,2193 55,2191.5 C51,2190.5 48.5,2188 47,2184" stroke="#5b4f9d" stroke-width="5.6"/>
<circle cx="100.6" cy="2162" r="15.3" stroke="#d3302e" stroke-width="5.4"/>
<circle cx="86.4" cy="2190.2" r="15" stroke="#7c3f97" stroke-width="5.4"/>
<line x1="101.7" y1="2177" x2="101.7" y2="2207.3" stroke="#7c3f97" stroke-width="5"/>
</g>
</svg>

</body></html>
